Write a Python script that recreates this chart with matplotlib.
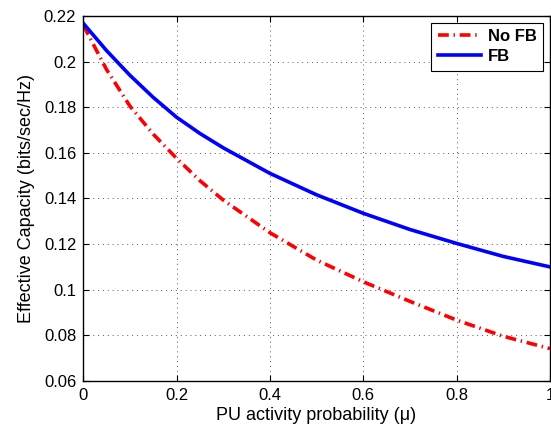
import matplotlib
matplotlib.use('Agg')
import matplotlib.pyplot as plt

plt.rcParams['font.family'] = ['Liberation Sans', 'DejaVu Sans']

# values
mu = [0.0, 0.05, 0.1, 0.15, 0.2, 0.25, 0.3, 0.4, 0.5, 0.6, 0.7, 0.8, 0.9, 1.0]
no_fb = [0.2160, 0.1965, 0.1805, 0.1682, 0.1576, 0.1478, 0.1393, 0.1250, 0.1130, 0.1035, 0.0949, 0.0867, 0.0796, 0.0742]
fb = [0.2168, 0.2048, 0.1940, 0.1843, 0.1756, 0.1685, 0.1622, 0.1510, 0.1416, 0.1335, 0.1264, 0.1203, 0.1146, 0.1100]

x_ticks = [0, 0.2, 0.4, 0.6, 0.8, 1]
x_tick_labels = ['0', '0.2', '0.4', '0.6', '0.8', '1']
y_ticks = [0.06, 0.08, 0.1, 0.12, 0.14, 0.16, 0.18, 0.2, 0.22]
y_tick_labels = ['0.06', '0.08', '0.1', '0.12', '0.14', '0.16', '0.18', '0.2', '0.22']

fig = plt.figure(figsize=(5.51, 4.30), dpi=100)
ax = fig.add_axes([0.151, 0.114, 0.847, 0.849])

ax.plot(mu, no_fb, color='red', lw=2.6, linestyle=(0, (3.0, 1.3, 0.4, 1.3)), label='No FB')
ax.plot(mu, fb, color='blue', lw=2.6, label='FB')

ax.set_xlim(0, 1)
ax.set_ylim(0.06, 0.22)
ax.set_xticks(x_ticks)
ax.set_xticklabels(x_tick_labels)
ax.set_yticks(y_ticks)
ax.set_yticklabels(y_tick_labels)
ax.tick_params(direction='in', labelsize=12, length=4, top=True, right=True, pad=5)
ax.grid(True, linestyle=(0, (1, 4)), color='#555555', lw=0.7)
for s in ax.spines.values():
    s.set_linewidth(1.0)

ax.set_xlabel('PU activity probability (μ)', fontsize=13, labelpad=3)
ax.set_ylabel('Effective Capacity (bits/sec/Hz)', fontsize=13, labelpad=6)

leg = ax.legend(loc='upper right', prop={'weight': 'bold', 'size': 12},
                fancybox=False, edgecolor='black', framealpha=1,
                handlelength=2.6, handletextpad=0.4, borderaxespad=0.4,
                labelspacing=0.3)
leg.get_frame().set_linewidth(0.8)

fig.savefig('out.png', dpi=100)
